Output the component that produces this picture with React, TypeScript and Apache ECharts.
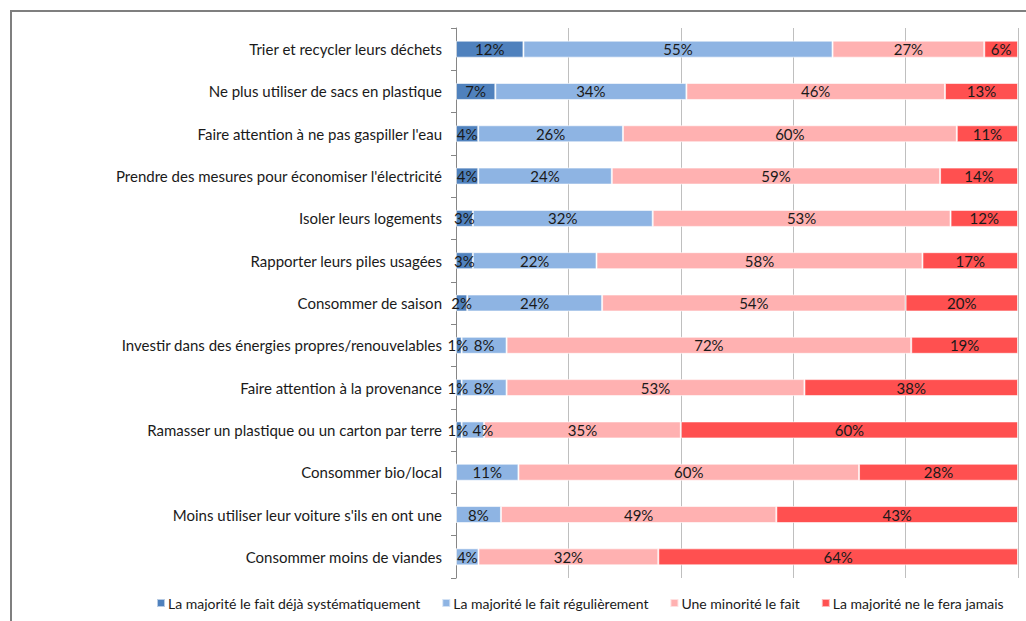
import React, { useEffect, useRef } from "react";
import * as echarts from "echarts";

const categories = [
  "Trier et recycler leurs déchets",
  "Ne plus utiliser de sacs en plastique",
  "Faire attention à ne pas gaspiller l'eau",
  "Prendre des mesures pour économiser l'électricité",
  "Isoler leurs logements",
  "Rapporter leurs piles usagées",
  "Consommer de saison",
  "Investir dans des énergies propres/renouvelables",
  "Faire attention à la provenance",
  "Ramasser un plastique ou un carton par terre",
  "Consommer bio/local",
  "Moins utiliser leur voiture s'ils en ont une",
  "Consommer moins de viandes",
];

const seriesNames = [
  "La majorité le fait déjà systématiquement",
  "La majorité le fait régulièrement",
  "Une minorité le fait",
  "La majorité ne le fera jamais",
];

const systematique = [12, 7, 4, 4, 3, 3, 2, 1, 1, 1, 0, 0, 0];
const regulierement = [55, 34, 26, 24, 32, 22, 24, 8, 8, 4, 11, 8, 4];
const minorite = [27, 46, 60, 59, 53, 58, 54, 72, 53, 35, 60, 49, 32];
const jamais = [6, 13, 11, 14, 12, 17, 20, 19, 38, 60, 28, 43, 64];

const colors = ["#4F81BD", "#8EB4E3", "#FFB1B1", "#FF5050"];

export default function App() {
  const ref = useRef<HTMLDivElement>(null);
  useEffect(() => {
    if (!ref.current) return;
    const chart = echarts.init(ref.current, undefined, { renderer: "svg" });
    const raw = [systematique, regulierement, minorite, jamais];
    const totals = categories.map((_, i) => raw.reduce((s, arr) => s + arr[i], 0));
    const font = "Lato, 'Open Sans', sans-serif";
    chart.setOption({
      animation: false,
      textStyle: { fontFamily: font },
      graphic: [
        {
          type: "rect",
          shape: { x: 11, y: 11, width: 1040, height: 640 },
          style: { fill: "none", stroke: "#7f7f7f", lineWidth: 2 },
          silent: true,
          z: -10,
        },
      ],
      grid: { left: 456, right: 8, top: 28, bottom: 43, containLabel: false },
      legend: {
        left: 151,
        top: 591,
        itemWidth: 8,
        itemHeight: 8,
        itemGap: 21,
        icon: "rect",
        textStyle: { fontSize: 14, color: "#1a1a1a", fontFamily: font, padding: [0, 0, 0, -2] },
        data: seriesNames,
      },
      xAxis: {
        type: "value",
        min: 0,
        max: 100,
        interval: 20,
        axisLabel: { show: false },
        axisLine: { show: false },
        axisTick: { show: false },
        splitLine: { show: true, lineStyle: { color: "#BFBFBF", width: 1 } },
      },
      yAxis: {
        type: "category",
        inverse: true,
        data: categories,
        axisLine: { show: true, lineStyle: { color: "#868686", width: 1 } },
        axisTick: { show: true, length: 5, lineStyle: { color: "#868686" } },
        axisLabel: { color: "#1a1a1a", fontSize: 15, margin: 14, fontFamily: font },
      },
      series: raw.map((arr, si) => ({
        name: seriesNames[si],
        type: "bar",
        stack: "total",
        barWidth: 17,
        itemStyle: { color: colors[si], borderColor: "rgba(255,255,255,0.6)", borderWidth: 1 },
        label: {
          show: true,
          position: "inside",
          color: "#1a1a1a",
          fontSize: 15,
          fontFamily: font,
          formatter: (p: any) => (arr[p.dataIndex] > 0 ? arr[p.dataIndex] + "%" : ""),
        },
        data: arr.map((v, i) => {
          const item: any = { value: (v / totals[i]) * 100 };
          if (si === 0 && v === 1) item.label = { offset: [-1, 0] };
          if (si === 1 && v <= 4 && raw[0][i] > 0) item.label = { offset: [10, 0] };
          return item;
        }),
      })),
    });
    return () => chart.dispose();
  }, []);
  return (
    <div
      ref={ref}
      style={{ position: "fixed", left: 0, top: 0, width: 1026, height: 621, background: "#fff" }}
    />
  );
}
